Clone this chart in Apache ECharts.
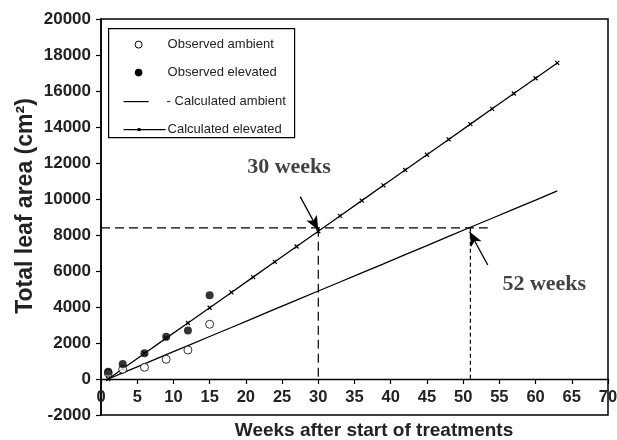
<!DOCTYPE html>
<html><head><meta charset="utf-8">
<script src="https://cdn.jsdelivr.net/npm/echarts@6/dist/echarts.min.js"></script>
<style>html,body{margin:0;padding:0;background:#fff}#c{width:617px;height:440px}</style>
</head><body><div id="c"></div>
<script>
const calcWeeks = [1,3,6,9,12,15,18,21,24,27,30,33,36,39,42,45,48,51,54,57,60,63];
const calcAmbient = [0,340,840,1350,1850,2360,2860,3370,3880,4380,4890,5390,5900,6400,6910,7410,7920,8430,8930,9440,9940,10450];
const calcElevated = [0,570,1420,2270,3110,3960,4810,5660,6510,7360,8210,9060,9910,10760,11610,12460,13310,14160,15010,15860,16710,17560];
const obsWeeks = [1,3,6,9,12,15];
const obsAmbient = [330,540,650,1095,1610,3040];
const obsElevated = [405,833,1430,2350,2690,4650];
const targetArea = 8400;
const weekElevated = 30;
const weekAmbient = 51;
const dashEndWeek = 53.4;
const arrowElev = [[27.5,10130],[30,8280]];
const arrowAmb = [[53.4,6330],[50.9,8180]];
const annotations = [[25.96,11750,'30 weeks'],[61.2,5250,'52 weeks']];
const seriesNames = ['Observed ambient','Observed elevated','Calculated ambient','Calculated elevated'];

const pair = (xs, ys) => xs.map((x, i) => [x, ys[i]]);
const chart = echarts.init(document.getElementById('c'));
const fontS = 'Liberation Sans, Arial, sans-serif';
const xMark = 'path://M0,0L10,10M10,0L0,10';

chart.setOption({
  animation: false,
  grid: {left: 101, right: 9, top: 19, bottom: 25, containLabel: false, outerBoundsMode: 'none',
         show: true, borderColor: '#000', borderWidth: 1.5, backgroundColor: 'transparent'},
  xAxis: {
    type: 'value', min: 0, max: 70, interval: 5,
    axisLine: {onZero: true, lineStyle: {color: '#000', width: 1.3}},
    axisTick: {inside: false, length: 5, lineStyle: {color: '#000', width: 1.2}},
    axisLabel: {color: '#222', fontFamily: fontS, fontWeight: 'bold', fontSize: 16.5, margin: -26},
    splitLine: {show: false},
    name: 'Weeks after start of treatments', nameLocation: 'middle', nameGap: 6, nameMoveOverlap: false,
    nameTextStyle: {color: '#222', fontFamily: fontS, fontWeight: 'bold', fontSize: 19, padding: [0,0,0,39]}
  },
  yAxis: {
    type: 'value', min: -2000, max: 20000, interval: 2000,
    axisLine: {show: true, lineStyle: {color: '#000', width: 1.5}},
    axisTick: {inside: false, length: 5, lineStyle: {color: '#000', width: 1.2}},
    axisLabel: {color: '#222', fontFamily: fontS, fontWeight: 'bold', fontSize: 17, margin: 10, formatter: v => String(v)},
    splitLine: {show: false},
    name: 'Total leaf area (cm²)', nameLocation: 'middle', nameGap: 64, nameMoveOverlap: false,
    nameTextStyle: {color: '#222', fontFamily: fontS, fontWeight: 'bold', fontSize: 23, padding: [0,0,0,22]}
  },
  series: [
    {name: 'guides', type: 'line', data: [[0, targetArea],[dashEndWeek, targetArea]], symbol: 'none',
     lineStyle: {color: '#000', width: 1.2, type: [9,5]}, z: 1,
     markLine: {silent: true, symbol: ['none','arrow'], symbolSize: [9,14], label: {show: false},
       lineStyle: {color: '#000', width: 1.3, type: 'solid'},
       data: [[{coord: arrowElev[0]},{coord: arrowElev[1]}],[{coord: arrowAmb[0]},{coord: arrowAmb[1]}]]}},
    {name: 'v30', type: 'line', data: [[weekElevated, targetArea],[weekElevated, 0]], symbol: 'none',
     lineStyle: {color: '#000', width: 1.2, type: [9,5]}, z: 1},
    {name: 'v51', type: 'line', data: [[weekAmbient, targetArea],[weekAmbient, 0]], symbol: 'none',
     lineStyle: {color: '#000', width: 1.2, type: [4,3]}, z: 1},
    {name: seriesNames[2], type: 'line', data: pair(calcWeeks, calcAmbient), symbol: 'none',
     lineStyle: {color: '#000', width: 1.3}, z: 2},
    {name: seriesNames[3], type: 'line', data: pair(calcWeeks, calcElevated), symbol: xMark, symbolSize: 4,
     itemStyle: {color: '#000', borderColor: '#000', borderWidth: 1.2},
     lineStyle: {color: '#000', width: 1.3}, z: 3},
    {name: seriesNames[0], type: 'scatter', data: pair(obsWeeks, obsAmbient), symbol: 'circle', symbolSize: 8,
     itemStyle: {color: '#fff', borderColor: '#000', borderWidth: 1}, z: 4},
    {name: seriesNames[1], type: 'scatter', data: pair(obsWeeks, obsElevated), symbol: 'circle', symbolSize: 8,
     itemStyle: {color: '#000'}, z: 5},
    {name: 'notes', type: 'scatter', data: annotations, symbolSize: 0, z: 6,
     label: {show: true, position: 'inside', formatter: p => p.data[2], color: '#111',
       fontFamily: 'Liberation Serif, Times New Roman, serif', fontWeight: 'bold', fontSize: 22}}
  ],
  graphic: [
    {type: 'group', left: 108, top: 28, children: [
      {type: 'rect', shape: {x: 0, y: 0, width: 186, height: 109}, style: {fill: '#fff', stroke: '#000', lineWidth: 1.2}},
      {type: 'circle', shape: {cx: 30, cy: 16, r: 3.5}, style: {fill: '#fff', stroke: '#000', lineWidth: 1}},
      {type: 'text', x: 59, y: 16, style: {text: seriesNames[0], font: '13px ' + fontS, fill: '#222', verticalAlign: 'middle'}},
      {type: 'circle', shape: {cx: 30, cy: 44, r: 3.8}, style: {fill: '#000'}},
      {type: 'text', x: 59, y: 44, style: {text: seriesNames[1], font: '13px ' + fontS, fill: '#222', verticalAlign: 'middle'}},
      {type: 'line', shape: {x1: 15, y1: 73, x2: 40, y2: 73}, style: {stroke: '#000', lineWidth: 1.2}},
      {type: 'text', x: 58, y: 73, style: {text: '- ' + seriesNames[2], font: '13px ' + fontS, fill: '#222', verticalAlign: 'middle'}},
      {type: 'line', shape: {x1: 15, y1: 101, x2: 57, y2: 101}, style: {stroke: '#000', lineWidth: 1.2}},
      {type: 'rect', shape: {x: 29, y: 99.5, width: 3, height: 3}, style: {fill: '#000'}},
      {type: 'text', x: 59, y: 101, style: {text: seriesNames[3], font: '13px ' + fontS, fill: '#222', verticalAlign: 'middle'}}
    ]}
  ]
});
</script></body></html>
